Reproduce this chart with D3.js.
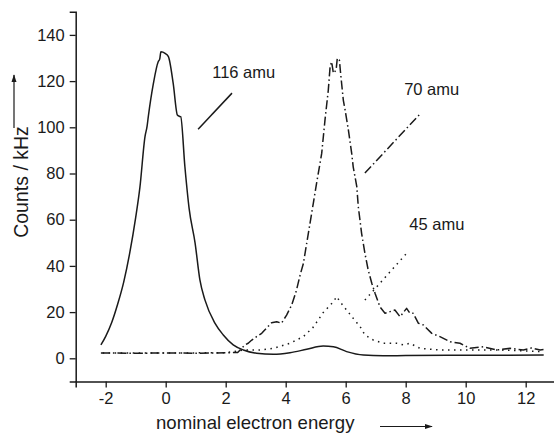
<!DOCTYPE html>
<html><head><meta charset="utf-8">
<script src="https://cdn.jsdelivr.net/npm/d3@7"></script>
<style>
html,body{margin:0;padding:0;background:#fff;}
svg{display:block;font-family:"Liberation Sans",Arial,sans-serif;}
</style></head>
<body>
<svg id="chart" width="554" height="435"></svg>
<script>
// ---- data ----
const xTicks = [-2, 0, 2, 4, 6, 8, 10, 12];
const yTicks = [0, 20, 40, 60, 80, 100, 120, 140];
const seriesLabels = ["116 amu", "70 amu", "45 amu"];

const x116 = [-2.16,-2.0,-1.8,-1.6,-1.4,-1.2,-1.0,-0.86,-0.69,-0.62,-0.58,-0.41,-0.25,-0.2,-0.16,-0.02,0.09,0.25,0.39,0.45,0.5,0.64,0.78,0.98,1.14,1.31,1.64,1.92,2.25,2.59,3.03,3.59,4.14,4.7,5.25,5.59,6.03,6.59,7.25,8,10,12.6];
const y116 = [5.8,9.5,15.5,23.5,33,45.5,61,74,96,100.5,104.6,119,128.4,129.5,132.7,132,130.6,119,105.3,104.8,104.6,82.9,64.9,49.9,33.9,25.2,15.2,10.1,5.8,3.6,2.2,1.7,2.4,3.9,5.3,5.0,2.9,1.4,1.1,1.2,1.3,1.4];

const x70 = [-2.16,-1,0,1,2,2.4,2.64,2.75,2.87,3.03,3.2,3.53,3.7,3.86,4.03,4.2,4.35,4.48,4.59,4.7,4.81,4.92,5.03,5.2,5.31,5.42,5.48,5.53,5.59,5.68,5.72,5.79,5.83,5.92,5.98,6.09,6.2,6.25,6.37,6.42,6.53,6.64,6.75,6.87,6.98,7.14,7.31,7.48,7.64,7.81,8.03,8.14,8.25,8.42,8.59,8.87,9.14,9.48,9.81,10.14,10.59,11.03,11.48,11.92,12.2,12.48,12.6];
const y70 = [2.3,2.2,2.3,2.2,2.4,2.5,5.8,6.5,7.9,9.4,10.8,15.4,15.8,15.2,18.7,23.1,29,36,41.1,49.8,58.4,67.1,75.8,88.7,103.2,116.1,126.2,128.4,123.4,124.8,129.9,129.1,123.4,111.8,107.5,98.8,88.7,82.9,74.3,65.6,54.1,45.5,38.2,32.5,28.1,22.3,19.5,20.2,20.9,18,21.6,19.5,19.5,15.2,14.4,10.8,9.4,7.2,6.5,4.3,5.0,3.6,4.3,3.6,4.5,3.6,3.8];

const x45 = [-2.1,0,2.0,2.6,3.14,3.59,4.14,4.59,4.92,5.25,5.59,5.7,5.81,6.03,6.25,6.48,6.64,6.92,7.25,7.7,7.92,8.14,8.48,9.14,10.03,11.14,12.48,12.6];
const y45 = [2.3,2.3,2.4,3.6,3.6,4.3,6.5,9.4,13.5,19.8,24.5,26.7,24.5,20.9,17.3,13.7,10.1,7.9,6.5,6.5,5.8,6.5,4.3,3.6,3.6,3.6,2.9,2.9];

// ---- chart ----
const svg = d3.select("#chart");
const ink = "#1a1a1a";
const x = d3.scaleLinear().domain([-3, 13]).range([75.7, 555.7]);
const y = d3.scaleLinear().domain([-10, 150]).range([381.4, 11.8]);

svg.append("defs").append("marker")
  .attr("id","ah").attr("viewBox","0 0 10 10").attr("refX",9).attr("refY",5)
  .attr("markerWidth",8).attr("markerHeight",8).attr("markerUnits","userSpaceOnUse")
  .attr("orient","auto")
  .append("path").attr("d","M0,1.8 L10,5 L0,8.2 Z").attr("fill",ink);

// axes
const xMinor = d3.range(-3, 14, 2);
const yMinor = d3.range(-10, 151, 20);
const fmt = d => String(d);
const gx = svg.append("g").attr("transform",`translate(0,${y(-10)})`);
gx.call(d3.axisBottom(x).tickValues(xMinor).tickSize(4).tickFormat(""));
gx.call(d3.axisBottom(x).tickValues(xTicks).tickSize(6).tickPadding(5).tickFormat(fmt));
const gy = svg.append("g").attr("transform",`translate(${x(-3)},0)`);
gy.call(d3.axisLeft(y).tickValues(yMinor).tickSize(4).tickFormat(""));
gy.call(d3.axisLeft(y).tickValues(yTicks).tickSize(6).tickPadding(5).tickFormat(fmt));
svg.selectAll(".domain").attr("stroke",ink).attr("stroke-width",1.5);
svg.selectAll(".tick line").attr("stroke",ink).attr("stroke-width",1.3);
svg.selectAll(".tick text").attr("fill",ink).attr("font-size",16.5).attr("font-family","Liberation Sans, Arial, sans-serif");

// series
function drawSeries(xs, ys, dash, curve){
  const line = d3.line().x(d => x(d[0])).y(d => y(d[1])).curve(curve);
  svg.append("path").datum(d3.zip(xs, ys))
    .attr("d", line).attr("fill","none").attr("stroke",ink)
    .attr("stroke-width",1.5).attr("stroke-dasharray",dash)
    .attr("stroke-linejoin","round");
}
drawSeries(x116, y116, null, d3.curveMonotoneX);
drawSeries(x70, y70, "9,3,1.5,3", d3.curveLinear);
drawSeries(x45, y45, "1.5,4.5", d3.curveLinear);

// annotations
const ann = [
  {label: seriesLabels[0], tx: 1.55, ty: 121.3, l: [[1.08,99.2],[2.21,114.8]], dash: null},
  {label: seriesLabels[1], tx: 7.95, ty: 114.0, l: [[6.64,80.2],[8.48,105.8]], dash: "9,3,1.5,3"},
  {label: seriesLabels[2], tx: 8.12, ty: 55.5, l: [[6.64,25.2],[8.04,45.6]], dash: "1.5,4.5"}
];
ann.forEach(a => {
  svg.append("text").attr("x", x(a.tx)).attr("y", y(a.ty))
    .attr("font-size",16.5).attr("fill",ink).text(a.label);
  svg.append("line")
    .attr("x1", x(a.l[0][0])).attr("y1", y(a.l[0][1]))
    .attr("x2", x(a.l[1][0])).attr("y2", y(a.l[1][1]))
    .attr("stroke",ink).attr("stroke-width",1.5).attr("stroke-dasharray",a.dash);
});

// axis titles
svg.append("text").attr("x",156).attr("y",429).attr("font-size",18.6).attr("fill",ink)
  .text("nominal electron energy");
svg.append("line").attr("x1",380).attr("y1",426.5).attr("x2",432).attr("y2",426.5)
  .attr("stroke",ink).attr("stroke-width",1.2).attr("marker-end","url(#ah)");
svg.append("text").attr("transform","translate(28,182) rotate(-90)")
  .attr("text-anchor","middle").attr("font-size",19.5).attr("fill",ink)
  .text("Counts / kHz");
svg.append("line").attr("x1",14).attr("y1",128).attr("x2",14).attr("y2",75)
  .attr("stroke",ink).attr("stroke-width",1.2).attr("marker-end","url(#ah)");
</script>
</body></html>
